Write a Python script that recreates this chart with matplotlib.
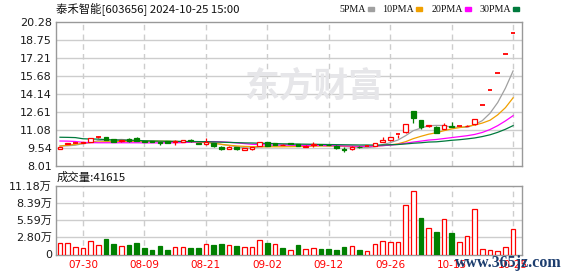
import matplotlib
matplotlib.use('Agg')
import matplotlib.pyplot as plt
from matplotlib.patches import Rectangle

# 泰禾智能 603656 日K线, 2024-07-25 .. 2024-10-25
dates = ['07-25', '07-26', '07-29', '07-30', '07-31', '08-01', '08-02', '08-05', '08-06', '08-07',
         '08-08', '08-09', '08-12', '08-13', '08-14', '08-15', '08-16', '08-19', '08-20', '08-21',
         '08-22', '08-23', '08-26', '08-27', '08-28', '08-29', '08-30', '09-02', '09-03', '09-04',
         '09-05', '09-06', '09-09', '09-10', '09-11', '09-12', '09-13', '09-18', '09-19', '09-20',
         '09-23', '09-24', '09-25', '09-26', '09-27', '09-30', '10-08', '10-09', '10-10', '10-11',
         '10-14', '10-15', '10-16', '10-17', '10-18', '10-21', '10-22', '10-23', '10-24', '10-25']

opens = [9.43, 9.92, 9.97, 10.00, 10.08, 10.50, 10.45, 10.28, 10.10, 10.32,
         10.42, 10.14, 10.10, 10.05, 10.10, 10.02, 10.08, 10.24, 9.98, 9.86,
         9.94, 9.65, 9.45, 9.60, 9.40, 9.47, 9.74, 10.03, 9.94, 9.78,
         9.96, 9.88, 9.66, 9.76, 9.86, 9.82, 9.74, 9.42, 9.43, 9.66,
         9.66, 9.74, 10.06, 10.20, 10.68, 10.88, 12.70, 11.93, 11.44, 11.33,
         11.19, 11.40, 11.37, 11.40, 11.56, 13.19, 14.51, 15.96, 17.56, 19.32]
highs = [9.62, 9.98, 10.04, 10.08, 10.42, 10.56, 10.50, 10.30, 10.24, 10.36,
         10.47, 10.18, 10.12, 10.07, 10.12, 10.22, 10.24, 10.30, 10.00, 10.42,
         9.96, 9.68, 9.68, 9.62, 9.54, 9.63, 10.06, 10.06, 9.96, 9.88,
         9.98, 9.90, 9.78, 10.03, 9.90, 9.86, 9.76, 9.60, 9.68, 9.68,
         9.74, 9.96, 10.45, 10.50, 10.72, 11.60, 12.72, 11.95, 11.50, 11.38,
         11.70, 11.76, 11.41, 11.50, 12.05, 13.19, 14.51, 15.96, 17.56, 19.32]
lows = [9.43, 9.90, 9.94, 9.97, 10.05, 10.40, 10.20, 10.03, 10.06, 10.05,
        10.10, 10.06, 10.02, 9.76, 9.96, 9.82, 10.05, 10.06, 9.88, 9.84,
        9.62, 9.34, 9.42, 9.36, 9.38, 9.40, 9.72, 9.72, 9.78, 9.76,
        9.85, 9.68, 9.60, 9.65, 9.80, 9.76, 9.50, 9.18, 9.40, 9.58,
        9.64, 9.72, 10.04, 10.18, 10.42, 10.86, 11.65, 11.16, 11.30, 10.84,
        11.15, 11.30, 11.35, 11.38, 11.54, 13.19, 14.51, 15.96, 17.56, 19.32]
closes = [9.62, 9.96, 10.00, 10.05, 10.37, 10.52, 10.22, 10.06, 10.20, 10.16,
          10.12, 10.08, 10.04, 10.00, 9.98, 10.10, 10.20, 10.10, 9.92, 10.03,
          9.74, 9.45, 9.65, 9.43, 9.52, 9.60, 10.03, 9.74, 9.84, 9.82,
          9.88, 9.70, 9.74, 9.86, 9.82, 9.78, 9.52, 9.36, 9.65, 9.62,
          9.70, 9.94, 10.26, 10.47, 10.71, 11.56, 12.12, 11.33, 11.48, 10.86,
          11.50, 11.36, 11.39, 11.45, 11.99, 13.19, 14.51, 15.96, 17.56, 19.32]
# 成交量, 万手
volumes = [1.95, 1.95, 1.20, 1.07, 2.25, 1.58, 2.60, 1.75, 1.40, 1.58,
           1.92, 1.10, 0.75, 1.42, 0.75, 1.15, 1.15, 1.05, 1.05, 1.72,
           1.55, 1.72, 1.50, 1.40, 1.15, 1.15, 2.38, 1.88, 1.72, 1.05,
           0.72, 1.55, 0.88, 1.05, 0.88, 0.88, 0.72, 1.20, 1.38, 0.72,
           0.55, 1.72, 2.20, 2.05, 2.05, 8.10, 10.40, 5.97, 4.27, 3.67,
           5.80, 3.50, 2.05, 3.00, 7.45, 0.82, 0.72, 0.55, 1.20, 4.16]

ma5 = [9.72, 9.73, 9.78, 9.92, 10.00, 10.18, 10.23, 10.24, 10.27, 10.23,
       10.15, 10.12, 10.12, 10.08, 10.04, 10.04, 10.06, 10.08, 10.06, 10.07,
       10.00, 9.85, 9.76, 9.66, 9.56, 9.53, 9.65, 9.66, 9.75, 9.81,
       9.86, 9.80, 9.80, 9.80, 9.80, 9.78, 9.74, 9.67, 9.63, 9.59,
       9.57, 9.65, 9.83, 10.00, 10.22, 10.59, 11.02, 11.24, 11.44, 11.47,
       11.46, 11.31, 11.32, 11.31, 11.54, 11.88, 12.51, 13.42, 14.64, 16.11]
ma10 = [9.71, 9.78, 9.86, 9.95, 10.03, 10.06, 10.08, 10.08, 10.09, 10.10,
        10.12, 10.13, 10.13, 10.13, 10.12, 10.10, 10.09, 10.08, 10.04, 10.00,
        9.94, 9.86, 9.78, 9.72, 9.68, 9.66, 9.66, 9.65, 9.65, 9.65,
        9.66, 9.67, 9.68, 9.70, 9.71, 9.71, 9.70, 9.69, 9.68, 9.67,
        9.68, 9.70, 9.75, 9.81, 9.90, 10.08, 10.34, 10.54, 10.72, 10.84,
        11.02, 11.17, 11.28, 11.38, 11.50, 11.67, 11.91, 12.37, 12.98, 13.82]
ma20 = [10.14, 10.13, 10.10, 10.02, 10.00, 9.99, 9.99, 9.99, 9.99, 9.99,
        9.99, 9.98, 9.98, 9.98, 9.98, 9.99, 10.00, 10.04, 10.07, 10.09,
        10.09, 10.07, 10.03, 9.98, 9.92, 9.86, 9.83, 9.81, 9.80, 9.79,
        9.78, 9.77, 9.76, 9.76, 9.76, 9.75, 9.74, 9.72, 9.71, 9.69,
        9.69, 9.71, 9.74, 9.79, 9.85, 9.95, 10.05, 10.13, 10.22, 10.27,
        10.35, 10.43, 10.51, 10.59, 10.70, 10.87, 11.12, 11.45, 11.85, 12.30]
ma30 = [10.46, 10.45, 10.43, 10.33, 10.31, 10.30, 10.25, 10.22, 10.21, 10.20,
        10.19, 10.16, 10.14, 10.13, 10.12, 10.11, 10.10, 10.10, 10.09, 10.08,
        10.06, 10.04, 10.02, 10.00, 9.98, 9.97, 9.95, 9.94, 9.92, 9.90,
        9.89, 9.88, 9.87, 9.86, 9.85, 9.84, 9.83, 9.82, 9.81, 9.80,
        9.80, 9.79, 9.80, 9.82, 9.84, 9.89, 9.95, 9.99, 10.05, 10.07,
        10.13, 10.20, 10.25, 10.32, 10.40, 10.52, 10.67, 10.88, 11.14, 11.45]

price_ticks = [8.01, 9.54, 11.08, 12.61, 14.14, 15.68, 17.21, 18.75, 20.28]
vol_ticks = [0, 2.80, 5.59, 8.39, 11.18]
vol_labels = ['0', '2.80万', '5.59万', '8.39万', '11.18万']
ma_names = ['5PMA', '10PMA', '20PMA', '30PMA']

RED = '#ff0000'
GREEN = '#008000'
ma_colors = ['#a0a0a0', '#f0a000', '#ff00ff', '#007a3d']
GRID = '#cdcdcd'
BORDER = '#999999'

plt.rcParams['font.family'] = ['DejaVu Sans', 'Noto Sans CJK SC']

W, H = 578, 276
fig = plt.figure(figsize=(W / 100, H / 100), dpi=100)
ax = fig.add_axes([56 / W, 1 - 166 / H, 466 / W, 144 / H])
axv = fig.add_axes([56 / W, 1 - 254.5 / H, 466 / W, 68.5 / H])

n = len(closes)
xs = list(range(n))
tick_idx = list(range(3, n, 8))
bw = 0.6


def style_axes(a):
    a.set_xlim(-0.52, 60.16)
    for s in a.spines.values():
        s.set_color(BORDER)
        s.set_linewidth(1)
    a.tick_params(axis='both', length=0, labelsize=8, colors='#1a1a1a', pad=3)
    a.set_xticks([])
    for t in tick_idx:
        a.axvline(t, color=GRID, lw=1, ls=(0, (4, 3)), zorder=0)


# price panel
style_axes(ax)
ax.set_ylim(price_ticks[0], price_ticks[-1])
ax.set_yticks(price_ticks)
ax.set_yticklabels(['%.2f' % p for p in price_ticks])
for p in price_ticks[1:-1]:
    ax.axhline(p, color=GRID, lw=1, zorder=0)

ax.text(245 / W, 1 - 86 / H, '东方财富', transform=fig.transFigure, fontsize=25,
        fontweight='bold', family='Noto Sans CJK SC', color='#e6e6e9',
        va='center', ha='left', zorder=0.5)

for vals, col in zip([ma5, ma10, ma20, ma30], ma_colors):
    ax.plot(xs, vals, color=col, lw=0.9, zorder=2)

for i in range(n):
    o, h, l, c = opens[i], highs[i], lows[i], closes[i]
    up = c >= o
    col = RED if up else GREEN
    top, bot = max(o, c), min(o, c)
    ax.vlines(i, top, h, color=col, lw=0.9, zorder=3)
    ax.vlines(i, l, bot, color=col, lw=0.9, zorder=3)
    if top - bot < 0.04:
        ax.hlines(c, i - bw / 2, i + bw / 2, color=col, lw=1.3, zorder=4)
    else:
        ax.add_patch(Rectangle((i - bw / 2, bot), bw, top - bot,
                               facecolor='white' if up else col, edgecolor=col,
                               lw=0.9, zorder=4))

# volume panel
style_axes(axv)
axv.set_ylim(0, vol_ticks[-1])
axv.set_yticks(vol_ticks)
axv.set_yticklabels(vol_labels)
for v in vol_ticks[1:-1]:
    axv.axhline(v, color=GRID, lw=1, zorder=0)
for i in range(n):
    up = i == 0 or closes[i] >= closes[i - 1]
    col = RED if up else GREEN
    axv.add_patch(Rectangle((i - bw / 2, 0), bw, volumes[i],
                            facecolor='white' if up else col, edgecolor=col,
                            lw=0.9, zorder=3))
for t in tick_idx:
    axv.text(t, -0.9, dates[t], color=RED, fontsize=7.5, ha='center', va='top',
             transform=axv.transData)

# header texts
fig.text(56 / W, 1 - 9 / H, '泰禾智能[603656] 2024-10-25 15:00', fontsize=8.2,
         family=['Noto Sans CJK SC'], color='#111111', va='center', ha='left')

# MA legend: label then a small colour block right after it
renderer = fig.canvas.get_renderer()
lx = 339
for name, col in zip(ma_names, ma_colors):
    t = fig.text(lx / W, 1 - 9 / H, name, fontsize=7.2, family='Liberation Serif',
                 color='#111111', va='center', ha='left')
    tw = t.get_window_extent(renderer).width
    fig.add_artist(Rectangle(((lx + tw + 2) / W, 1 - 10.5 / H), 6 / W, 3 / H,
                             transform=fig.transFigure, color=col))
    lx += tw + 17

fig.text(57 / W, 1 - 177 / H, '成交量:41615', fontsize=8.2,
         family=['Noto Sans CJK SC'], color='#111111', va='center', ha='left')

# site watermark, lies over the last date labels as in the original
fig.text(455 / W, 1 - 263 / H, 'www.365jz.com', fontsize=11.5, fontweight='bold',
         family='Liberation Serif', color='#1c3d6e', va='center', ha='left',
         zorder=5)

fig.savefig('out.png', dpi=100)
